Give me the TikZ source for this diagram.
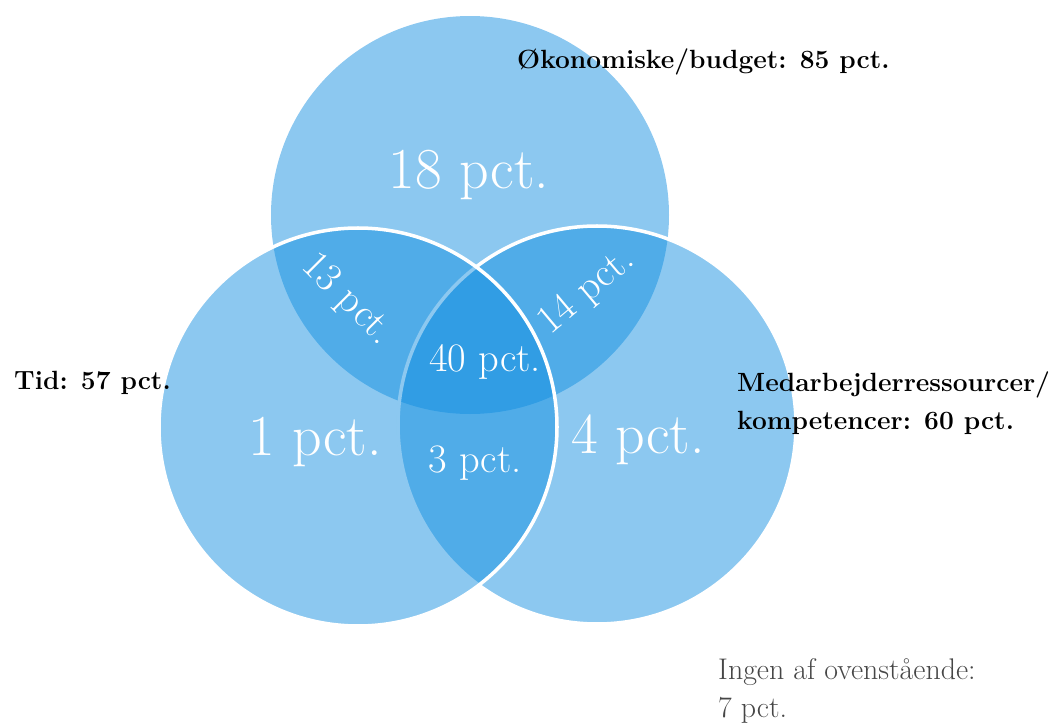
\documentclass[tikz,border=0pt]{standalone}
\usepackage{fontspec}
\definecolor{vennblue}{RGB}{15,141,224}
\definecolor{notegray}{RGB}{70,70,70}
\begin{document}
\begin{tikzpicture}[x=0.02cm,y=-0.02cm,
  set/.style={fill=vennblue,fill opacity=0.48},
  rim/.style={draw=white,line width=2pt},
  big/.style={text=white,font=\fontsize{33}{33}\selectfont},
  mid/.style={text=white,font=\fontsize{23}{23}\selectfont},
  title/.style={font=\fontsize{15}{22}\selectfont\bfseries,align=left,anchor=west}]
\useasboundingbox (0,0) rectangle (1059,727);
\fill[set] (470,215) circle (199);
\filldraw[set,rim] (597,425) circle (199);
\filldraw[set,rim] (358,427) circle (199);
\node[big] (budgetonly) at (469,175) {18 pct.};
\node[big] (timeonly) at (315,442) {1 pct.};
\node[big] (staffonly) at (638,440) {4 pct.};
\node[mid,rotate=-45] (budgettime) at (347,300) {13 pct.};
\node[mid,rotate=40] (budgetstaff) at (587,292) {14 pct.};
\node[mid] (all) at (485,362) {40 pct.};
\node[mid] (timestaff) at (475,463) {3 pct.};
\node[title] (budget) at (511,62) {Økonomiske/budget: 85 pct.};
\node[title] (time) at (8,383) {Tid: 57 pct.};
\node[title] (staff) at (731,403) {Medarbejderressourcer/\\kompetencer: 60 pct.};
\node[title,font=\fontsize{17}{22}\selectfont,text=notegray] (none) at (712,691) {Ingen af ovenstående:\\7 pct.};
\end{tikzpicture}
\end{document}
